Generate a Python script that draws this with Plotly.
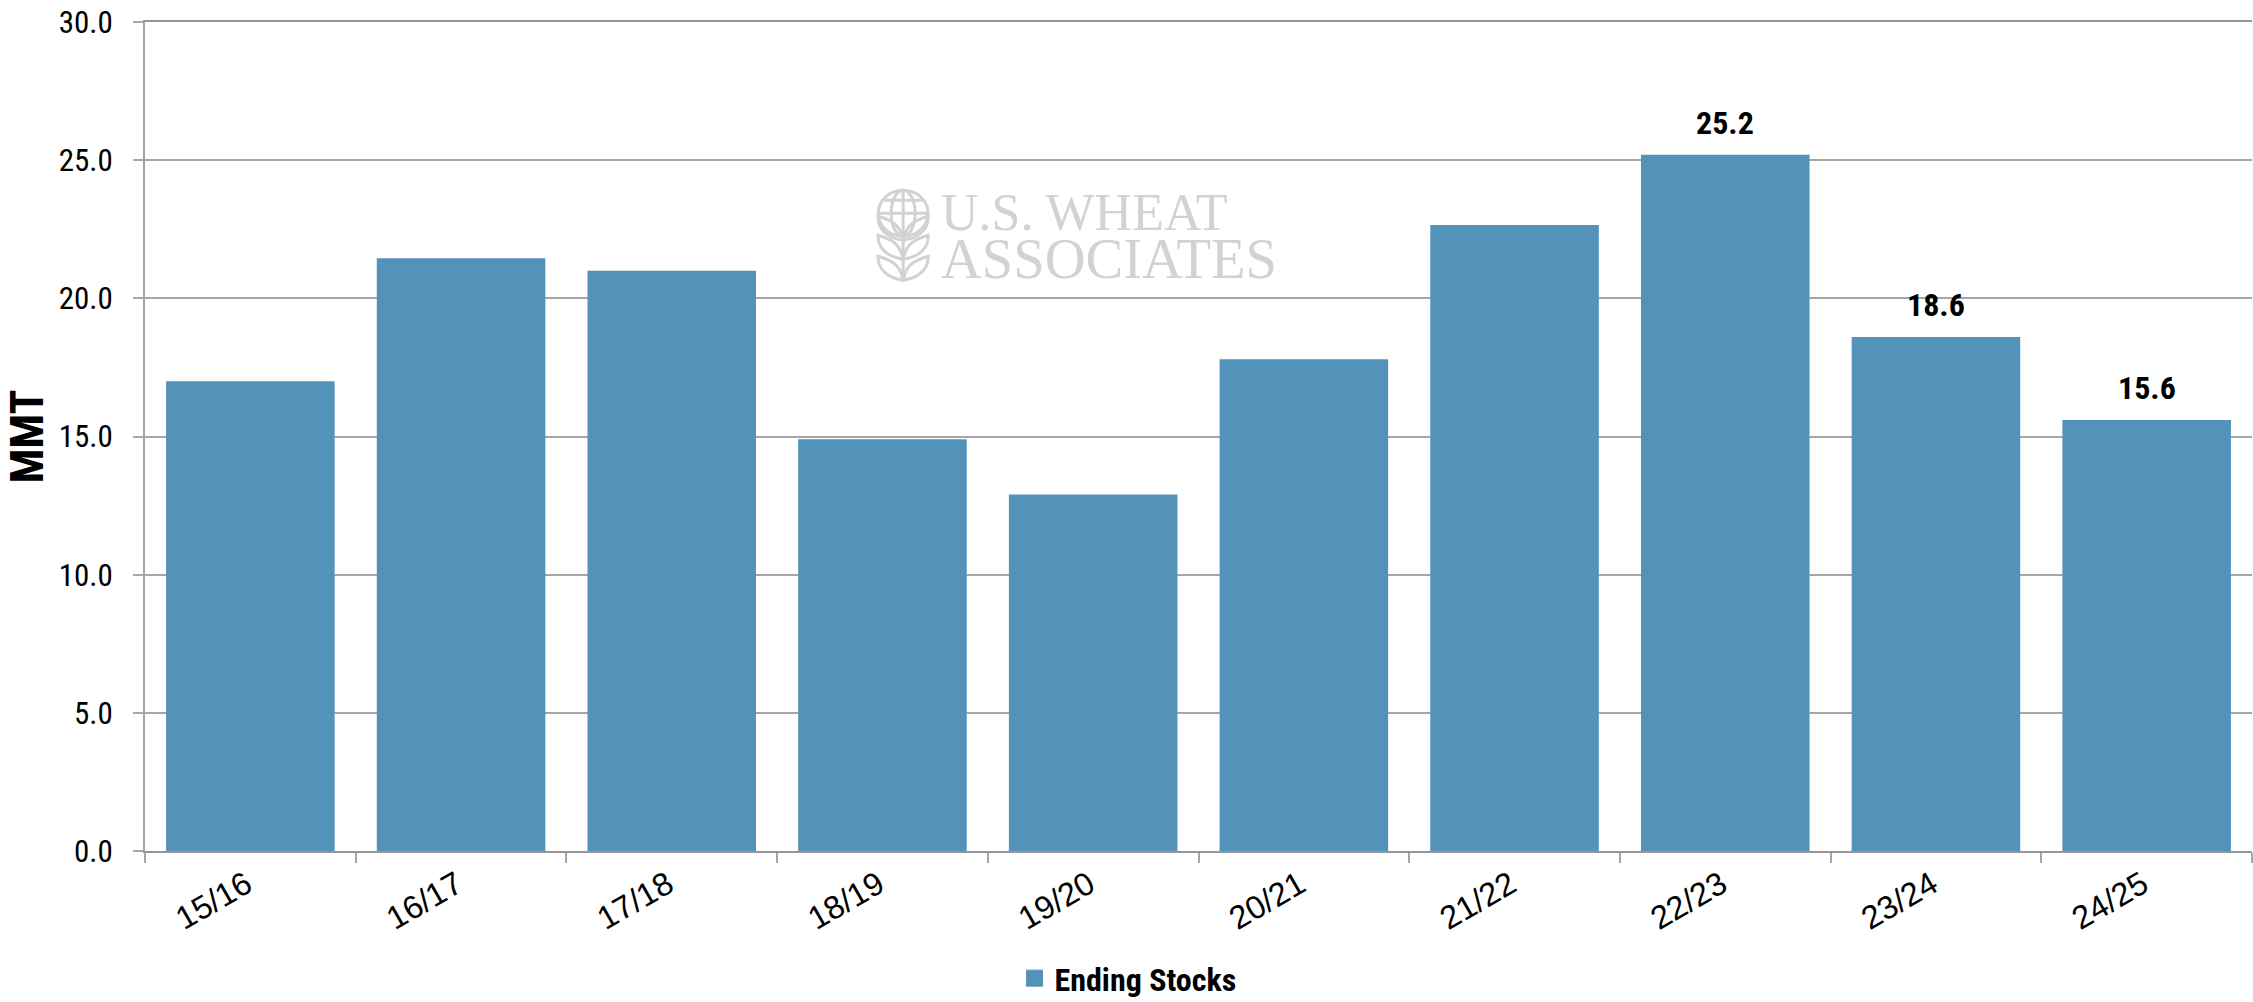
import plotly.graph_objects as go

seasons = ["15/16", "16/17", "17/18", "18/19", "19/20", "20/21", "21/22", "22/23", "23/24", "24/25"]
ending_stocks = [17.0, 21.45, 21.0, 14.9, 12.9, 17.8, 22.65, 25.2, 18.6, 15.6]
point_labels = ["", "", "", "", "", "", "", "25.2", "18.6", "15.6"]
y_ticks = [0, 5, 10, 15, 20, 25, 30]

W, H = 2253, 1002
PAGE_H = 1050  # taller canvas so the legend does not push the bottom margin; page is clipped to H
L, R, T, B = 144.5, 2252.5, 21.5, 851.5
BAR = "#5393b9"
GRID = "#a6a6a6"
COND = "Roboto Condensed, Liberation Sans Narrow, Roboto"
LOGO = "#d2d2d2"

fig = go.Figure()
fig.add_bar(x=seasons, y=ending_stocks, marker_color=BAR, marker_line_width=0, width=0.8, showlegend=False)
fig.add_scatter(x=[None], y=[None], mode="markers", name="Ending Stocks",
                marker=dict(symbol="square", size=16, color=BAR, line=dict(color=BAR, width=1)))

for s, v, lab in zip(seasons, ending_stocks, point_labels):
    if lab:
        fig.add_annotation(x=s, y=v, text=f"<b>{lab}</b>", showarrow=False, yanchor="bottom", yshift=11,
                           font=dict(family=COND, size=32, color="black"))

def px(x): return (x - L) / (R - L)
def py(y): return (B - y) / (B - T)

# Watermark: logo text
for txt, xp, yp, sz in [("U.S. WHEAT", 939, 212, 52), ("ASSOCIATES", 939, 259, 56.5)]:
    fig.add_annotation(xref="paper", yref="paper", x=px(xp), y=py(yp), text=txt, showarrow=False,
                       xanchor="left", yanchor="middle", font=dict(family="Liberation Serif", size=sz, color=LOGO))

# Watermark: globe and leaves
shapes = [dict(type="circle", x0=px(878), x1=px(928), y0=py(190), y1=py(236)),
          dict(type="circle", x0=px(891), x1=px(915), y0=py(190), y1=py(236)),
          dict(type="line", x0=px(903), x1=px(903), y0=py(190), y1=py(280)),
          dict(type="line", x0=px(878), x1=px(928), y0=py(213), y1=py(213)),
          dict(type="line", x0=px(884), x1=px(922), y0=py(200), y1=py(200))]
for y0 in (216, 235, 256):
    for sgn in (-1, 1):
        x = lambda d: px(903 + sgn * d)
        y = lambda d: py(y0 + d)
        shapes.append(dict(type="path",
                           path=f"M {x(0)} {y(24)} C {x(3)} {y(8)} {x(12)} {y(4)} {x(25)} {y(0)} "
                                f"C {x(26)} {y(12)} {x(16)} {y(22)} {x(0)} {y(24)} Z"))
for s in shapes:
    s.update(xref="paper", yref="paper", line=dict(color=LOGO, width=3), layer="below")

fig.update_layout(
    width=W, height=PAGE_H, autosize=False,
    margin=dict(l=L, r=W - R, t=T, b=PAGE_H - B),
    paper_bgcolor="white", plot_bgcolor="white",
    shapes=shapes, bargap=0.2,
    xaxis=dict(type="category", range=[-0.5, 9.5], tickson="boundaries", ticks="outside", ticklen=10, tickwidth=2,
               tickcolor=GRID, showline=True, linecolor="#969696", linewidth=2, showgrid=False, mirror=True,
               tickangle=-30, ticklabelshift=-4, tickfont=dict(family="Liberation Sans", size=32.5, color="black")),
    yaxis=dict(range=[0, 30], tickvals=y_ticks, tickformat=".1f", ticks="outside", ticklen=10, tickwidth=2,
               tickcolor=GRID, showline=True, linecolor=GRID, linewidth=2, showgrid=True, gridcolor=GRID, gridwidth=2,
               zeroline=False, ticklabelstandoff=14, tickfont=dict(family=COND, size=31, color="black"),
               title=dict(text="<b>MMT</b>", font=dict(family=COND, size=46, color="black"), standoff=15)),
    legend=dict(orientation="h", x=px(1128), xanchor="center", y=py(979), yanchor="middle",
                font=dict(family=COND, size=32, color="black", weight="bold"), itemclick=False),
)
fig.write_html("out.html", config=dict(displayModeBar=False),
               post_script="for(const e of [document.documentElement,document.body]){e.style.margin='0';e.style.height='1002px';e.style.overflow='hidden';}")
